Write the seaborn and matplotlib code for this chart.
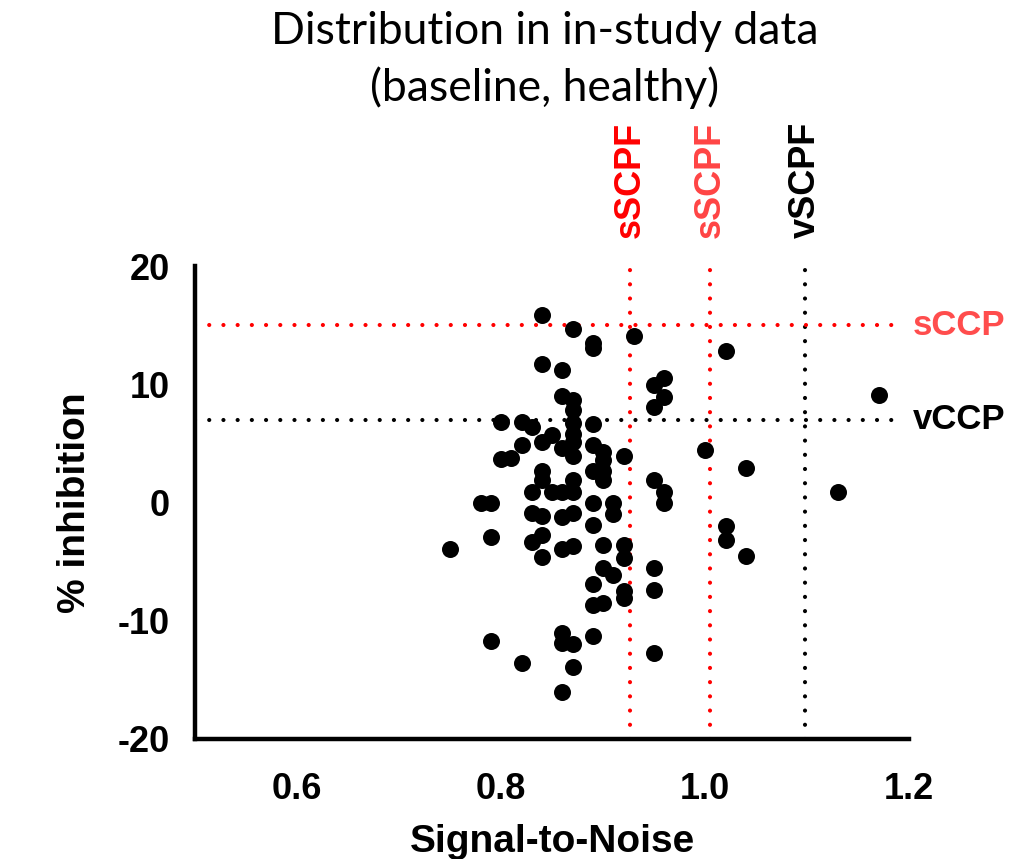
import matplotlib
matplotlib.use("Agg")
import matplotlib.pyplot as plt
import matplotlib.transforms as mtransforms
import seaborn as sns
import pandas as pd

# ---- data ----
snr = ([0.75] + [0.78] + [0.79]*3 + [0.80]*2 + [0.81] + [0.82]*3 + [0.83]*4 +
       [0.84]*8 + [0.85]*2 + [0.86]*9 + [0.87]*13 + [0.89]*10 + [0.90]*7 +
       [0.91]*3 + [0.92]*5 + [0.93] + [0.95]*6 + [0.96]*4 + [1.00] +
       [1.02]*3 + [1.04]*2 + [1.13] + [1.17])
inhibition = ([-3.9] +
              [0.0] +
              [0.0, -2.9, -11.7] +
              [6.8, 3.7] +
              [3.8] +
              [6.8, 4.9, -13.6] +
              [6.4, 0.9, -0.9, -3.3] +
              [15.9, 11.7, 5.1, 2.7, 1.9, -1.1, -2.75, -4.6] +
              [5.7, 0.9] +
              [11.2, 9.0, 4.6, 0.9, -1.25, -3.9, -11.0, -11.9, -16.0] +
              [14.7, 8.7, 7.8, 6.7, 5.8, 5.1, 3.9, 1.9, 0.9, -0.9, -3.7, -12.0, -13.9] +
              [13.5, 13.1, 6.6, 4.9, 2.7, 0.0, -1.9, -6.9, -8.7, -11.3] +
              [4.3, 3.6, 2.7, 1.9, -3.6, -5.5, -8.5] +
              [0.0, -1.0, -6.1] +
              [3.9, -3.6, -4.7, -7.5, -8.1] +
              [14.1] +
              [9.9, 8.1, 1.9, -5.5, -7.4, -12.7] +
              [10.5, 8.9, 0.9, 0.0] +
              [4.4] +
              [12.8, -2.0, -3.2] +
              [2.9, -4.5] +
              [0.9] +
              [9.1])

vlines_x = [0.926, 1.005, 1.098]
vlines_labels = ["sSCPF", "sSCPF", "vSCPF"]
vlines_colors = ["#ff0000", "#ff0000", "#000000"]
vlabel_colors = ["#ff0000", "#ff4444", "#000000"]
hlines_y = [15, 7]
hlines_labels = ["sCCP", "vCCP"]
hlines_colors = ["#ff0000", "#000000"]
hlabel_colors = ["#ff4d4d", "#000000"]

x_ticks = [0.6, 0.8, 1.0, 1.2]
x_ticklabels = ["0.6", "0.8", "1.0", "1.2"]
y_ticks = [-20, -10, 0, 10, 20]
y_ticklabels = ["-20", "-10", "0", "10", "20"]

df = pd.DataFrame({"Signal-to-Noise": snr, "% inhibition": inhibition})

sns.set_style("white")
plt.rcParams["font.family"] = ["Liberation Sans", "DejaVu Sans"]
plt.rcParams["text.color"] = "black"
plt.rcParams["axes.labelcolor"] = "black"
plt.rcParams["xtick.color"] = "black"
plt.rcParams["ytick.color"] = "black"

fig = plt.figure(figsize=(10.25, 8.59), dpi=100)
ax = fig.add_axes([0.1905, 0.1397, 0.6966, 0.5506])

dot = (0, (0.01, 3.4))
for xv, c in zip(vlines_x, vlines_colors):
    ax.plot([xv, xv], [-20, 20], color=c, lw=3.0, ls=dot,
            dash_capstyle="round", zorder=2, clip_on=False)
for yv, c in zip(hlines_y, hlines_colors):
    ax.plot([0.5, 1.184], [yv, yv], color=c, lw=3.0, ls=dot,
            dash_capstyle="round", zorder=2, clip_on=False)

sns.scatterplot(data=df, x="Signal-to-Noise", y="% inhibition", ax=ax,
                s=150, color="black", linewidth=0, legend=False, zorder=3,
                clip_on=False)

ax.set_xlim(0.5, 1.2)
ax.set_ylim(-20, 20)
ax.set_xticks(x_ticks)
ax.set_xticklabels(x_ticklabels)
ax.set_yticks(y_ticks)
ax.set_yticklabels(y_ticklabels)

for side in ["top", "right"]:
    ax.spines[side].set_visible(False)
for side in ["left", "bottom"]:
    ax.spines[side].set_linewidth(3.2)
    ax.spines[side].set_color("black")

ax.tick_params(axis="y", length=12.2, width=3.2, pad=6, labelsize=26, colors="black")
ax.tick_params(axis="x", length=15.8, width=3.2, pad=8, labelsize=26, colors="black")
for lab in ax.get_xticklabels() + ax.get_yticklabels():
    lab.set_fontweight("bold")

ax.set_xlabel("Signal-to-Noise", fontsize=28, fontweight="bold", labelpad=12)
ax.set_ylabel("% inhibition", fontsize=28, fontweight="bold", labelpad=18)

trans_v = mtransforms.blended_transform_factory(ax.transData, ax.transAxes)
for xv, lab, c in zip(vlines_x, vlines_labels, vlabel_colors):
    ax.text(xv, 1.059, lab, transform=trans_v, rotation=90, ha="center",
            va="bottom", fontsize=26, fontweight="bold", color=c)

trans_h = mtransforms.blended_transform_factory(ax.transAxes, ax.transData)
for yv, lab, c in zip(hlines_y, hlines_labels, hlabel_colors):
    ax.text(1.005, yv, lab, transform=trans_h, ha="left", va="center",
            fontsize=25, fontweight="bold", color=c)

fig.text(0.531, 0.963, "Distribution in in-study data", ha="center", va="center",
         fontsize=32, family=["Lato", "DejaVu Sans"], color="black")
fig.text(0.531, 0.898, "(baseline, healthy)", ha="center", va="center",
         fontsize=32, family=["Lato", "DejaVu Sans"], color="black")

fig.savefig("out.png", dpi=100)
